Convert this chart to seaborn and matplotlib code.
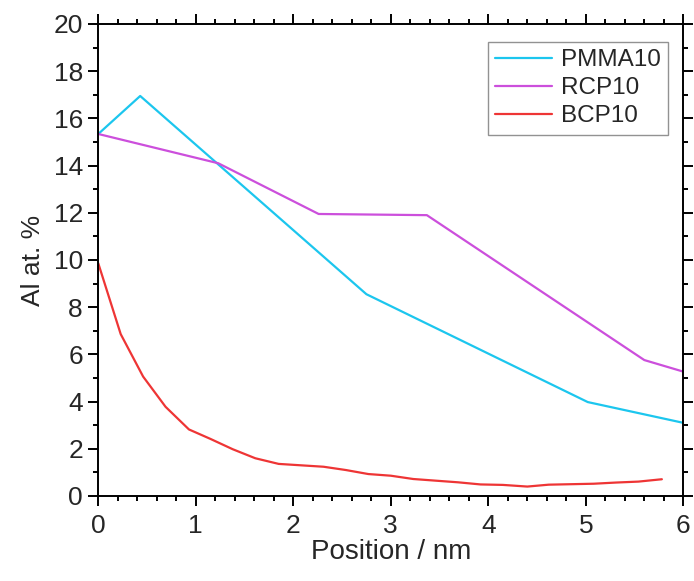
import numpy as np
import pandas as pd
import matplotlib
matplotlib.use('Agg')
import matplotlib.pyplot as plt
import seaborn as sns
from matplotlib.ticker import MultipleLocator

# Data
pmma_x = [0.0, 0.43, 2.75, 5.02, 6.0]
pmma_y = [15.34, 16.95, 8.55, 3.98, 3.1]

rcp_x = [0.0, 1.23, 2.26, 3.37, 5.6, 6.0]
rcp_y = [15.34, 14.1, 11.95, 11.9, 5.76, 5.27]

bcp_x = [0.0, 0.23, 0.46, 0.69, 0.93, 1.15, 1.38, 1.61, 1.85, 2.08, 2.31, 2.54,
         2.77, 3.0, 3.23, 3.46, 3.69, 3.92, 4.15, 4.4, 4.62, 4.85, 5.08, 5.31,
         5.54, 5.78]
bcp_y = [9.86, 6.86, 5.06, 3.78, 2.82, 2.42, 1.98, 1.6, 1.36, 1.3, 1.24, 1.1,
         0.93, 0.86, 0.72, 0.65, 0.58, 0.49, 0.47, 0.40, 0.48, 0.50, 0.52, 0.57,
         0.61, 0.71]

series = ['PMMA10', 'RCP10', 'BCP10']
colors = {'PMMA10': '#1cc6ee', 'RCP10': '#cc4fdc', 'BCP10': '#ee3535'}

df = pd.concat([
    pd.DataFrame({'x': pmma_x, 'y': pmma_y, 'sample': 'PMMA10'}),
    pd.DataFrame({'x': rcp_x, 'y': rcp_y, 'sample': 'RCP10'}),
    pd.DataFrame({'x': bcp_x, 'y': bcp_y, 'sample': 'BCP10'}),
])

sns.set_style('white')
plt.rcParams['font.family'] = ['Liberation Sans', 'DejaVu Sans']

fig = plt.figure(figsize=(6.94, 5.81), dpi=100)
ax = fig.add_axes([0.1416, 0.1463, 0.843, 0.8124])

for s in series:
    sub = df[df['sample'] == s]
    sns.lineplot(x='x', y='y', data=sub, ax=ax, color=colors[s], label=s,
                 linewidth=1.6, sort=False, estimator=None)

ax.set_xlim(0, 6)
ax.set_ylim(0, 20)
ax.xaxis.set_major_locator(MultipleLocator(1))
ax.xaxis.set_minor_locator(MultipleLocator(0.2))
ax.yaxis.set_major_locator(MultipleLocator(2))
ax.yaxis.set_minor_locator(MultipleLocator(1))
ax.tick_params(which='both', direction='out', top=True, right=True,
               bottom=True, left=True, width=1.4, color='black')
ax.tick_params(which='major', length=7, labelsize=19, pad=4)
ax.tick_params(which='minor', length=3.5)
ax.tick_params(axis='x', which='major', pad=6)
for sp in ax.spines.values():
    sp.set_linewidth(1.4)
    sp.set_color('black')

ax.set_xlabel('Position / nm', fontsize=20, labelpad=1)
ax.set_ylabel('Al at. %', fontsize=19, labelpad=6)

# legend
leg = ax.legend(loc='upper right', bbox_to_anchor=(0.974, 0.962),
                borderaxespad=0, fontsize=17.5, frameon=True, fancybox=False,
                edgecolor='#777777', handlelength=2.35, handletextpad=0.35,
                borderpad=0.3, labelspacing=0.25)
leg.get_frame().set_linewidth(1.0)

fig.savefig('out.png', dpi=100)
